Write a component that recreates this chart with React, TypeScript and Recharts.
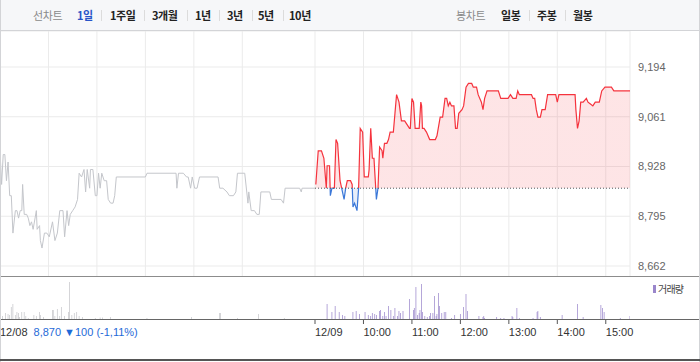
import React from 'react';
import { ComposedChart, Line, Area, Bar, Cell, XAxis, YAxis, CartesianGrid, ReferenceLine } from 'recharts';

// ---- data ----
const prevClose = 8870;
const prevChange = '▼100';
const prevChangePct = '(-1,11%)';
const priceTicks = [8662, 8795, 8928, 9061, 9194];
const gridMinutes = [60, 120, 180, 240, 300, 360, 390, 450, 510, 570, 630, 690, 750];
const axisMinutes = [0, 390, 450, 510, 570, 630, 690, 750];
const axisLabels = ['12/08', '12/09', '10:00', '11:00', '12:00', '13:00', '14:00', '15:00'];

// minutes from 12/08 09:00 (12/09 09:00 = 390)
const day1Minutes = [0, 2, 4, 6, 8, 10, 12, 14, 16, 19, 21, 23, 25, 27, 28, 30, 33, 35, 37, 39, 41, 45, 46, 49, 50, 52, 55, 58, 61, 65, 68, 71, 74, 78, 80, 83, 85, 87, 90, 93, 96, 98, 101, 104, 106, 108, 111, 112, 115, 118, 120, 122, 124, 126, 129, 132, 134, 137, 140, 142, 144, 180, 182, 218, 219, 221, 227, 231, 233, 236, 238, 241, 244, 247, 270, 272, 276, 281, 284, 289, 292, 294, 303, 307, 308, 311, 315, 318, 321, 323, 334, 336, 348, 351, 353, 371, 373, 374, 390];
const day1Prices = [8970, 8880, 8960, 8960, 8890, 8940, 8850, 8850, 8750, 8810, 8810, 8790, 8810, 8810, 8880, 8800, 8800, 8790, 8770, 8780, 8760, 8810, 8760, 8770, 8730, 8710, 8750, 8750, 8740, 8780, 8730, 8750, 8810, 8810, 8740, 8810, 8770, 8800, 8810, 8820, 8840, 8910, 8900, 8920, 8860, 8920, 8870, 8920, 8920, 8850, 8850, 8910, 8870, 8910, 8890, 8890, 8840, 8830, 8830, 8850, 8900, 8900, 8910, 8910, 8870, 8910, 8910, 8900, 8900, 8870, 8900, 8870, 8870, 8900, 8900, 8870, 8870, 8860, 8850, 8850, 8860, 8910, 8910, 8830, 8860, 8810, 8810, 8800, 8800, 8860, 8860, 8840, 8840, 8830, 8870, 8870, 8860, 8870, 8870];

const day2Minutes = [391, 394, 398, 401, 404, 405, 408, 409, 411, 414, 416, 418, 421, 423, 426, 428, 430, 434, 436, 437, 439, 442, 444, 446, 449, 451, 456, 457, 459, 461, 463, 466, 468, 470, 473, 474, 476, 479, 481, 483, 487, 489, 491, 494, 497, 501, 504, 507, 508, 510, 512, 514, 519, 521, 522, 523, 525, 528, 532, 539, 541, 545, 548, 551, 553, 555, 557, 559, 562, 564, 566, 568, 572, 574, 577, 580, 584, 586, 590, 592, 596, 598, 600, 603, 617, 620, 629, 632, 635, 639, 641, 643, 658, 660, 662, 664, 666, 669, 671, 675, 678, 688, 690, 692, 712, 713, 715, 717, 719, 722, 726, 728, 731, 734, 737, 742, 745, 749, 751, 757, 760, 780];
const day2Prices = [8880, 8970, 8970, 8950, 8870, 8930, 8930, 8850, 8870, 8870, 9000, 8990, 8890, 8870, 8840, 8870, 8890, 8890, 8880, 8820, 8830, 8810, 8870, 9030, 9020, 8900, 8900, 8920, 9030, 8950, 8950, 8840, 8870, 8980, 8970, 8950, 8990, 8990, 9000, 9020, 9020, 9070, 9120, 9100, 9050, 9050, 9040, 9030, 9030, 9110, 9100, 9030, 9030, 9100, 9090, 9030, 9030, 9020, 9000, 9000, 9010, 9060, 9060, 9110, 9110, 9090, 9100, 9090, 9090, 9030, 9030, 9070, 9080, 9090, 9140, 9150, 9150, 9140, 9140, 9120, 9100, 9080, 9110, 9130, 9130, 9110, 9110, 9120, 9110, 9110, 9130, 9120, 9120, 9110, 9110, 9080, 9060, 9060, 9080, 9080, 9120, 9120, 9100, 9120, 9120, 9080, 9030, 9050, 9100, 9100, 9110, 9100, 9095, 9090, 9100, 9100, 9130, 9140, 9140, 9140, 9130, 9130];

const volMinutes = [3, 7, 10, 12, 14, 16, 19, 21, 23, 24, 27, 30, 32, 35, 42, 45, 49, 50, 54, 65, 66, 68, 71, 74, 76, 80, 85, 86, 89, 92, 95, 98, 102, 118, 124, 127, 137, 182, 237, 272, 273, 294, 320, 352,
  405, 411, 415, 420, 424, 427, 437, 441, 445, 452, 456, 459, 461, 464, 466, 470, 471, 474, 476, 478, 481, 484, 487, 489, 492, 494, 496, 499, 507, 512, 513, 515, 517, 519, 520, 522, 523, 526, 529, 532, 533, 536, 538, 540, 541, 543, 544, 547, 550, 552, 559, 563, 570, 574, 577, 579, 593, 598, 599, 600, 615, 620, 624, 634, 635, 640, 643, 660, 665, 666, 669, 696, 715, 722, 744, 746, 748, 768, 780];
const volValues = [3, 6, 5, 4, 12, 15, 4, 7, 6, 2, 7, 7, 3, 1, 4, 3, 7, 4, 2, 9, 9, 3, 10, 3, 12, 3, 7, 37, 4, 6, 7, 3, 2, 1, 1.5, 1.5, 2, 1, 2, 6, 6, 1, 5, 1,
  15, 7, 13, 7, 4, 3, 7, 8, 5, 7, 4, 3, 6, 5, 4, 8, 9, 3, 7, 3, 13, 9, 3, 11, 3, 8, 6, 8, 20, 9, 11, 32, 4, 6, 9, 35, 7, 3, 2, 3, 6, 6, 23, 3, 5, 26, 13, 6, 7, 7, 1, 4, 5, 12, 25, 8, 3, 2, 3, 1, 2, 1, 1, 3, 2, 11, 1, 1, 7, 8, 2, 4, 15, 2, 14, 11, 7, 1, 3];

const day1 = day1Minutes.map((m, i) => ({ m, p: day1Prices[i] }));
const day2 = day2Minutes.map((m, i) => ({ m, p: day2Prices[i] }));
const vol = volMinutes.map((m, i) => ({ m, v: volValues[i] }));

const d2max = Math.max(...day2Prices);
const d2min = Math.min(...day2Prices);
const splitOff = (d2max - prevClose) / (d2max - d2min);

const NUM_FONT = '"Liberation Sans", Arial, sans-serif';
const KR_FONT = '"Noto Sans CJK KR", "Noto Sans", sans-serif';

const AxisTick = (props: any) => {
  const { x, y, payload } = props;
  const i = axisMinutes.indexOf(payload.value);
  return (
    <text x={x} y={y} dy={10} textAnchor="start" fontSize={11} fontFamily={NUM_FONT} fill="#333">
      {axisLabels[i]}
      {i === 0 && (
        <tspan fill="#1f6ad8" dx={6}>{`${prevClose.toLocaleString('en-US')} ${prevChange} ${prevChangePct}`}</tspan>
      )}
    </text>
  );
};

const headerLeft = [
  { t: '선차트', x: 33, c: '#8a8a8a', w: 400 },
  { t: '1일', x: 77, c: '#2855c8', w: 700 },
  { t: '1주일', x: 110, c: '#222', w: 700 },
  { t: '3개월', x: 152, c: '#222', w: 700 },
  { t: '1년', x: 195, c: '#222', w: 700 },
  { t: '3년', x: 227, c: '#222', w: 700 },
  { t: '5년', x: 258, c: '#222', w: 700 },
  { t: '10년', x: 289, c: '#222', w: 700 },
  { t: '봉차트', x: 456, c: '#8a8a8a', w: 400 },
  { t: '일봉', x: 501, c: '#222', w: 700 },
  { t: '주봉', x: 537, c: '#222', w: 700 },
  { t: '월봉', x: 573, c: '#222', w: 700 },
];
const headerSeps = [101, 144, 187, 219, 252, 283, 529, 565];

export default function App() {
  return (
    <div style={{ position: 'absolute', left: 0, top: 0, width: 700, height: 362, background: '#fff', overflow: 'hidden' }}>
      {/* header */}
      <div style={{ position: 'absolute', left: 0, top: 0, width: 700, height: 30, background: '#f6f7f9', borderBottom: '1px solid #d3d4d7' }} />
      {headerLeft.map((h) => (
        <span key={h.t + h.x} style={{ position: 'absolute', left: h.x, top: 0, height: 31, lineHeight: '31px', fontSize: 11, fontFamily: KR_FONT, fontWeight: h.w, color: h.c, letterSpacing: -0.4, whiteSpace: 'nowrap' }}>{h.t}</span>
      ))}
      {headerSeps.map((x) => (
        <div key={x} style={{ position: 'absolute', left: x, top: 10, width: 1, height: 11, background: '#dcdcdc' }} />
      ))}

      {/* price chart */}
      <div style={{ position: 'absolute', left: 0, top: 31 }}>
        <ComposedChart width={700} height={246} margin={{ top: 0, right: 0, left: 0, bottom: 0 }}>
          <defs>
            <linearGradient id="strokeSplit" x1="0" y1="0" x2="0" y2="1">
              <stop offset={splitOff} stopColor="#f5333d" />
              <stop offset={splitOff} stopColor="#3b78d8" />
            </linearGradient>
            <linearGradient id="fillSplit" x1="0" y1="0" x2="0" y2="1">
              <stop offset={splitOff} stopColor="#f5333d" stopOpacity={0.13} />
              <stop offset={splitOff} stopColor="#3b78d8" stopOpacity={0.12} />
            </linearGradient>
          </defs>
          <CartesianGrid stroke="#ebebeb" strokeWidth={1} />
          <XAxis dataKey="m" type="number" domain={[0, 780]} ticks={gridMinutes} hide allowDataOverflow />
          <YAxis
            orientation="right"
            width={70}
            domain={[8632.6, 9290.2]}
            ticks={priceTicks}
            axisLine={false}
            tickLine={false}
            allowDataOverflow
            tick={{ fill: '#666', fontSize: 11, fontFamily: NUM_FONT }}
            tickFormatter={(v: number) => v.toLocaleString('en-US')}
          />
          <Line data={day1} dataKey="p" type="linear" stroke="#c4c6cb" strokeWidth={1} dot={false} activeDot={false} isAnimationActive={false} />
          <Area data={day2} dataKey="p" type="linear" baseValue={prevClose} stroke="url(#strokeSplit)" strokeWidth={1.2} fill="url(#fillSplit)" fillOpacity={1} dot={false} activeDot={false} isAnimationActive={false} />
          <ReferenceLine segment={[{ x: 390, y: prevClose }, { x: 780, y: prevClose }]} stroke="#555" strokeDasharray="1 2" />
        </ComposedChart>
      </div>

      {/* separator */}
      <div style={{ position: 'absolute', left: 0, top: 276, width: 700, height: 1, background: '#8c8c8c' }} />

      {/* volume chart */}
      <div style={{ position: 'absolute', left: 0, top: 277 }}>
        <ComposedChart width={700} height={72} data={vol} margin={{ top: 0, right: 70, left: 0, bottom: 0 }}>
          <XAxis dataKey="m" type="number" domain={[0, 780]} ticks={axisMinutes} interval={0} axisLine={false} tickLine={{ stroke: '#555' }} tickSize={5} tick={<AxisTick />} height={30} allowDataOverflow />
          <YAxis hide domain={[0, 42]} />
          <Bar dataKey="v" barSize={1} isAnimationActive={false}>
            {vol.map((d) => (
              <Cell key={d.m} fill={d.m < 390 ? '#c5c6ca' : '#9a86cb'} />
            ))}
          </Bar>
        </ComposedChart>
      </div>
      <div style={{ position: 'absolute', left: 0, top: 319, width: 700, height: 1, background: '#666' }} />

      {/* volume legend */}
      <div style={{ position: 'absolute', left: 653, top: 285, width: 3, height: 8, background: '#9a86cb' }} />
      <span style={{ position: 'absolute', left: 658, top: 281, lineHeight: '16px', fontSize: 10, fontFamily: KR_FONT, color: '#444', letterSpacing: -0.8 }}>거래량</span>

      {/* frame */}
      <div style={{ position: 'absolute', left: 0, top: 0, width: 1, height: 362, background: '#d3d4d7' }} />
      <div style={{ position: 'absolute', left: 699, top: 0, width: 1, height: 362, background: '#d3d4d7' }} />
      <div style={{ position: 'absolute', left: 0, top: 359, width: 700, height: 2, background: '#555' }} />
    </div>
  );
}
